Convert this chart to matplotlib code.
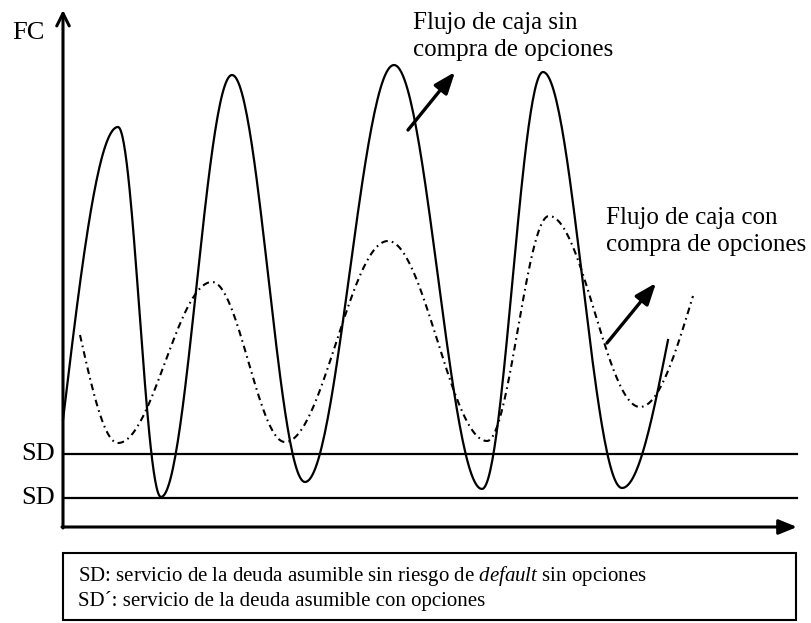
import numpy as np
import matplotlib
matplotlib.use("Agg")
import matplotlib.pyplot as plt
from matplotlib.patches import Rectangle

plt.rcParams['font.family'] = ['Liberation Serif', 'DejaVu Serif']
plt.rcParams['mathtext.fontset'] = 'custom'
plt.rcParams['mathtext.rm'] = 'Liberation Serif'
plt.rcParams['mathtext.it'] = 'Liberation Serif:italic'

# Schematic values (pixel-like units, y grows downward)
solid_x = [63, 118, 161, 232, 305, 394, 482, 543, 622, 668]
solid_y = [420, 127, 497, 75, 482, 65, 489, 72, 488, 340]
dash_x = [80, 118, 212, 285, 388, 487, 549, 640, 693]
dash_y = [335, 443, 282, 442, 241, 441, 216, 407, 296]
sd_levels = [454, 498]
sd_labels = ["SD", "SD"]
label_sin = "Flujo de caja sin\ncompra de opciones"
label_con = "Flujo de caja con\ncompra de opciones"
note_lines = ["SD: servicio de la deuda asumible sin riesgo de $\\it{default}$ sin opciones",
              "SD´: servicio de la deuda asumible con opciones"]


def wave(xs, ys, n=60):
    """Smooth curve through extrema; first/last points are mid-slope ends."""
    px, py = [], []
    last = len(xs) - 2
    for i in range(len(xs) - 1):
        t = np.linspace(0, 1, n)
        if i == 0:
            s = np.sin(np.pi / 2 * t)
        elif i == last:
            s = 1 - np.cos(np.pi / 2 * t)
        else:
            s = (1 - np.cos(np.pi * t)) / 2
        px.append(xs[i] + (xs[i + 1] - xs[i]) * t)
        py.append(ys[i] + (ys[i + 1] - ys[i]) * s)
    return np.concatenate(px), np.concatenate(py)


fig = plt.figure(figsize=(8.11, 6.23), dpi=100)
ax = fig.add_axes([0, 0, 1, 1])
ax.set_xlim(0, 811)
ax.set_ylim(623, 0)
ax.axis('off')

x0, xaxis_y = 63, 527

# axes
ax.annotate('', xy=(x0, 10), xytext=(x0, xaxis_y + 1),
            arrowprops=dict(arrowstyle='->,head_length=0.9,head_width=0.45', lw=2.2, color='black',
                            shrinkA=0, shrinkB=0))
ax.annotate('', xy=(797, xaxis_y), xytext=(x0 - 1, xaxis_y),
            arrowprops=dict(arrowstyle='-|>,head_length=1.1,head_width=0.45', lw=2.2, color='black',
                            shrinkA=0, shrinkB=0))

# SD lines
for lvl, lab in zip(sd_levels, sd_labels):
    ax.plot([x0, 797], [lvl, lvl], color='black', lw=1.6)
    ax.text(55, lvl, lab, ha='right', va='center', fontsize=19)

ax.text(45, 33, "FC", ha='right', va='center', fontsize=19)

# curves
sx, sy = wave(solid_x, solid_y)
ax.plot(sx, sy, color='black', lw=1.6)
dx, dy = wave(dash_x, dash_y)
ax.plot(dx, dy, color='black', lw=1.5, linestyle=(0, (3.2, 2.0, 0.8, 2.0)))

# annotations
arrow_kw = dict(arrowstyle='-|>,head_length=1.3,head_width=0.5', lw=2.4, color='black',
                shrinkA=0, shrinkB=0)
ax.text(413, 12, label_sin, ha='left', va='top', fontsize=18, linespacing=1.3)
ax.annotate('', xy=(455, 72), xytext=(408, 130), arrowprops=arrow_kw)
ax.text(606, 207, label_con, ha='left', va='top', fontsize=18, linespacing=1.3)
ax.annotate('', xy=(656, 283), xytext=(607, 343), arrowprops=arrow_kw)

# note box
ax.add_patch(Rectangle((63, 553), 733, 67, fill=False, edgecolor='black', lw=1.5))
ax.text(78, 581, note_lines[0], ha='left', va='baseline', fontsize=15)
ax.text(78, 606, note_lines[1], ha='left', va='baseline', fontsize=15)

fig.savefig('out.png', dpi=100)
